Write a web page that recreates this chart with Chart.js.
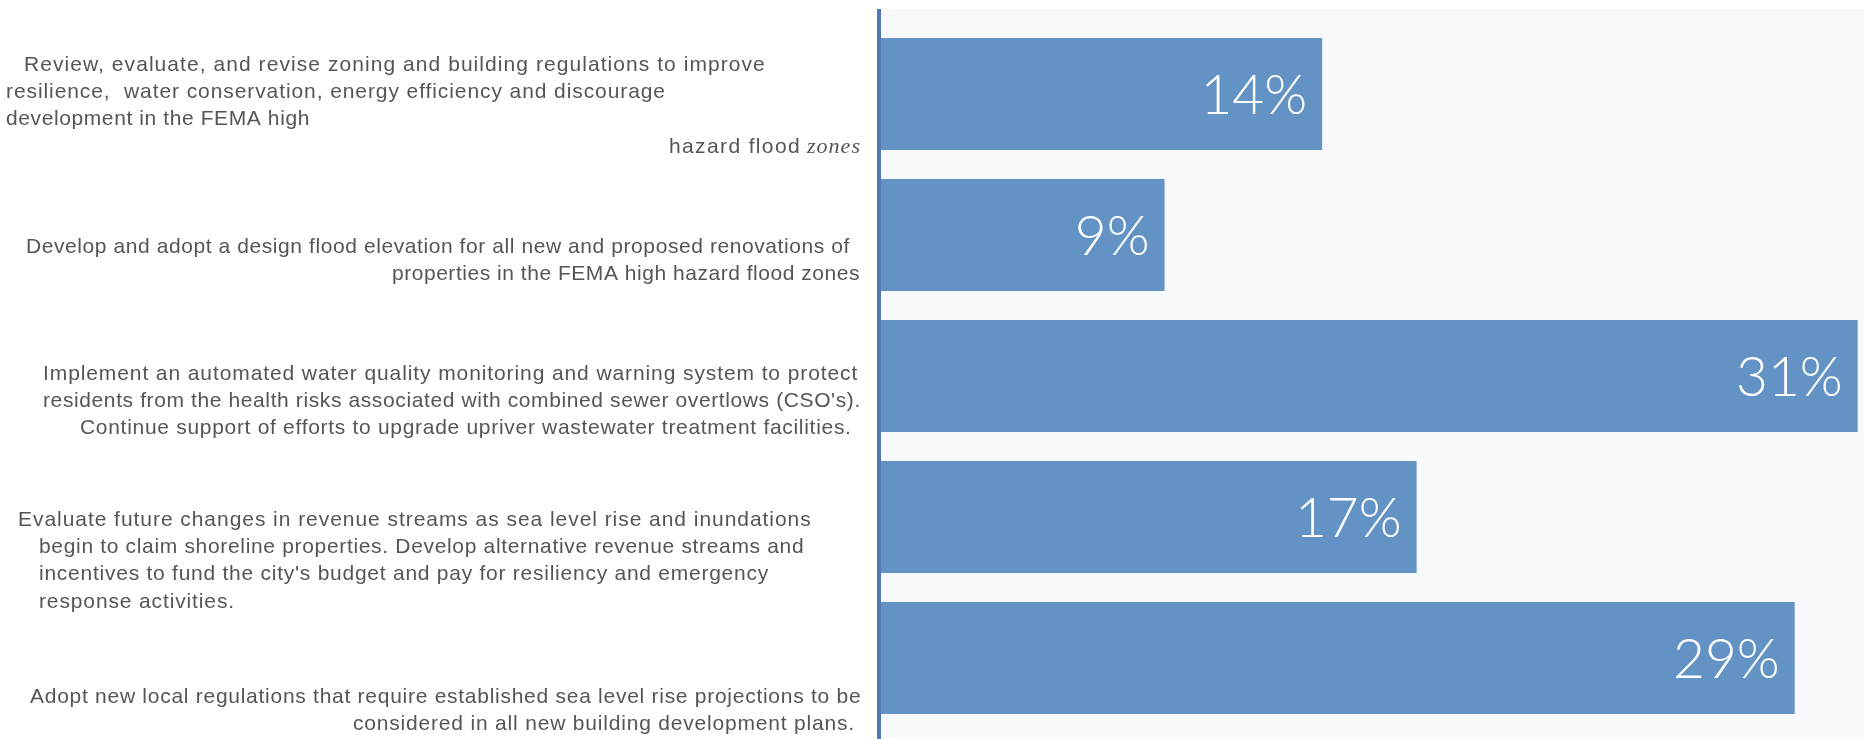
<!DOCTYPE html>
<html lang="en">
<head>
<meta charset="utf-8">
<title>Resilience actions</title>
<script src="https://cdn.jsdelivr.net/npm/chart.js@4.4.1/dist/chart.umd.min.js"></script>
<style>
  html, body { margin: 0; padding: 0; background: #ffffff; }
  #wrap { position: relative; width: 1864px; height: 739px; }
</style>
</head>
<body>
<div id="wrap"><canvas id="chart"></canvas></div>
<script>
// Recommended actions (wrapped as they appear on the left)
const actions = [
  ['Review, evaluate, and revise zoning and building regulations to improve',
   'resilience,  water conservation, energy efficiency and discourage',
   'development in the FEMA high',
   'hazard flood zones'],
  ['Develop and adopt a design flood elevation for all new and proposed renovations of',
   'properties in the FEMA high hazard flood zones'],
  ['Implement an automated water quality monitoring and warning system to protect',
   "residents from the health risks associated with combined sewer overtlows (CSO's).",
   'Continue support of efforts to upgrade upriver wastewater treatment facilities.'],
  ['Evaluate future changes in revenue streams as sea level rise and inundations',
   'begin to claim shoreline properties. Develop alternative revenue streams and',
   "incentives to fund the city's budget and pay for resiliency and emergency",
   'response activities.'],
  ['Adopt new local regulations that require established sea level rise projections to be',
   'considered in all new building development plans.'],
];

// Share of responses per action (%)
const shares = [14, 9, 31, 17, 29];

// ------------------------------------------------------------
// Styling / layout
// ------------------------------------------------------------
const BAR_COLOR = '#6393c5';
const AXIS_COLOR = '#5577b8';
const PLOT_BG = '#f7f9fc';
const LABEL_COLOR = '#555555';
const LABEL_FONT = "21px 'Liberation Sans', Arial, sans-serif";
const TAIL_FONT = "italic 22px 'Liberation Serif', 'Times New Roman', serif";
const LINE_GAP = 27.3;

// Each label: offset of first line from the bar centre, then the [start, end] span of every line.
// A third entry 'tail' draws the last word in italic serif between the given span.
const LABEL_LAYOUT = [
  { dy: -29, lines: [[24, 766], [6, 666], [6, 310], [669, 801, { tail: [807, 861] }]] },
  { dy: 12,  lines: [[26, 850], [392, 860]] },
  { dy: -2,  lines: [[43, 858], [43, 861], [80, 852]] },
  { dy: 3,   lines: [[18, 812], [39, 804], [39, 769], [39, 235]] },
  { dy: 39,  lines: [[30, 861], [353, 855]] },
];

/**
 * Draws text across the span x0..x1: squeezed if too long,
 * letter-spaced if too short.
 */
function drawFitted(ctx, text, x0, x1, y) {
  ctx.letterSpacing = '0px';
  const natural = ctx.measureText(text).width;
  const sx = Math.min(1, (x1 - x0) / natural);
  const extra = ((x1 - x0) / sx - natural) / Math.max(text.length, 1);
  ctx.save();
  ctx.translate(x0, y);
  ctx.scale(sx, 1);
  ctx.letterSpacing = extra.toFixed(2) + 'px';
  ctx.textAlign = 'left';
  ctx.fillText(text, 0, 0);
  ctx.restore();
  ctx.letterSpacing = '0px';
}

// Plot backdrop and the vertical baseline
const backdrop = {
  id: 'backdrop',
  beforeDatasetsDraw(chart) {
    const { ctx, chartArea } = chart;
    ctx.save();
    ctx.fillStyle = PLOT_BG;
    ctx.fillRect(chartArea.left, 9, chart.width - chartArea.left, chart.height - 9);
    ctx.restore();
  },
  afterDatasetsDraw(chart) {
    const { ctx } = chart;
    const x0 = chart.scales.x.getPixelForValue(0);
    ctx.save();
    ctx.fillStyle = AXIS_COLOR;
    ctx.fillRect(x0 - 4, 9, 4, chart.height - 9);
    ctx.restore();
  },
};

// Percentages inside the bar ends
const valueLabels = {
  id: 'valueLabels',
  afterDatasetsDraw(chart) {
    const { ctx } = chart;
    const meta = chart.getDatasetMeta(0);
    ctx.save();
    ctx.fillStyle = '#ffffff';
    ctx.font = "300 55px Lato, 'Open Sans', sans-serif";
    ctx.textAlign = 'right';
    ctx.textBaseline = 'middle';
    meta.data.forEach((bar, i) => {
      ctx.fillText(`${shares[i]}%`, bar.x - 15, bar.y + 2);
    });
    ctx.restore();
  },
};

// Category text on the left
const actionLabels = {
  id: 'actionLabels',
  afterDraw(chart) {
    const { ctx } = chart;
    const yScale = chart.scales.y;
    ctx.save();
    ctx.fillStyle = LABEL_COLOR;
    ctx.textBaseline = 'middle';
    actions.forEach((lines, i) => {
      const layout = LABEL_LAYOUT[i];
      const yc = yScale.getPixelForValue(i) + layout.dy;
      lines.forEach((text, k) => {
        const [x0, x1, extra] = layout.lines[k];
        const y = yc + k * LINE_GAP;
        ctx.font = LABEL_FONT;
        if (extra && extra.tail) {
          const cut = text.lastIndexOf(' ');
          drawFitted(ctx, text.slice(0, cut), x0, x1, y);
          ctx.font = TAIL_FONT;
          drawFitted(ctx, text.slice(cut + 1), extra.tail[0], extra.tail[1], y);
        } else {
          drawFitted(ctx, text, x0, x1, y);
        }
      });
    });
    ctx.restore();
  },
};

new Chart(document.getElementById('chart'), {
  type: 'bar',
  data: {
    labels: actions,
    datasets: [{
      data: shares,
      backgroundColor: BAR_COLOR,
      borderWidth: 0,
      categoryPercentage: 1,
      barPercentage: 0.794,
    }],
  },
  options: {
    indexAxis: 'y',
    responsive: true,
    maintainAspectRatio: false,
    animation: false,
    events: [],
    layout: { padding: { left: 881, right: 0, top: 23.5, bottom: 10.5 } },
    plugins: {
      legend: { display: false },
      tooltip: { enabled: false },
    },
    scales: {
      x: { display: false, min: 0, max: 31.2 },
      y: { display: false, offset: true },
    },
  },
  plugins: [backdrop, valueLabels, actionLabels],
});
</script>
</body>
</html>
